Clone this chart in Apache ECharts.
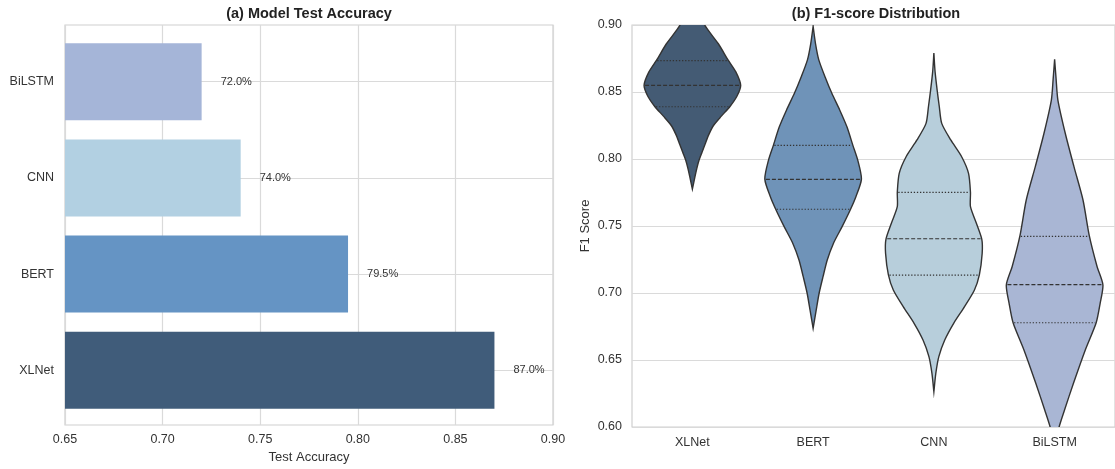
<!DOCTYPE html>
<html>
<head>
<meta charset="utf-8">
<script src="https://cdn.jsdelivr.net/npm/echarts@6/dist/echarts.min.js"></script>
<style>html,body{margin:0;padding:0;background:#fff;}#c{width:1115px;height:469px;}</style>
</head>
<body>
<div id="c"></div>
<script>
// ---- data ----
const categories = ['XLNet', 'BERT', 'CNN', 'BiLSTM'];
const accuracy = [0.87, 0.795, 0.74, 0.72];
// violin profiles: [F1 value, half-width in category-band units]
const xlnetProfile = [[0.930,0],[0.915,0.04],[0.900,0.102],[0.886,0.215],[0.874,0.295],[0.865,0.36],[0.855,0.40],[0.847,0.37],[0.839,0.31],[0.832,0.24],[0.825,0.175],[0.818,0.135],[0.811,0.105],[0.805,0.08],[0.799,0.055],[0.793,0.037],[0.787,0.022],[0.7775,0]];
const bertProfile = [[0.899,0],[0.886,0.02],[0.874,0.047],[0.861,0.10],[0.849,0.155],[0.8366,0.22],[0.824,0.28],[0.810,0.33],[0.799,0.37],[0.785,0.40],[0.772,0.355],[0.7625,0.31],[0.7495,0.24],[0.737,0.168],[0.7246,0.117],[0.7122,0.082],[0.700,0.05],[0.687,0.025],[0.6737,0]];
const cnnProfile = [[0.879,0],[0.865,0.01],[0.8515,0.027],[0.839,0.045],[0.8266,0.065],[0.8142,0.14],[0.8017,0.23],[0.7893,0.287],[0.7751,0.303],[0.7644,0.303],[0.752,0.352],[0.740,0.397],[0.7296,0.40],[0.7137,0.377],[0.7022,0.336],[0.6898,0.254],[0.6774,0.164],[0.6649,0.09],[0.6525,0.041],[0.640,0.016],[0.6263,0]];
const bilstmProfile = [[0.8744,0],[0.86,0.012],[0.844,0.027],[0.8192,0.088],[0.7943,0.16],[0.7694,0.235],[0.7428,0.287],[0.7196,0.352],[0.706,0.40],[0.6923,0.377],[0.6778,0.344],[0.6575,0.254],[0.6326,0.156],[0.6127,0.082],[0.600,0.037],[0.59,0.015],[0.58,0]];
// quartiles [Q1, median, Q3]
const xlnetQuart = [0.839, 0.855, 0.8734];
const bertQuart = [0.7625, 0.7848, 0.8102];
const cnnQuart = [0.7134, 0.7405, 0.7751];
const bilstmQuart = [0.6778, 0.7062, 0.7423];
const accTicks = ['0.65','0.70','0.75','0.80','0.85','0.90'];
const f1Ticks = ['0.60','0.65','0.70','0.75','0.80','0.85','0.90'];

// ---- styles ----
const barColors = ['#405c7a', '#6594c4', '#b2d0e2', '#a5b5d8'];
const violinColors = ['#445b74', '#6f93b8', '#b7cedb', '#a9b6d4'];
const FONT = "'Liberation Sans', Arial, sans-serif";
const TXT = '#333333';
const GRIDC = '#dadada';

const profiles = [xlnetProfile, bertProfile, cnnProfile, bilstmProfile];
const quarts = [xlnetQuart, bertQuart, cnnQuart, bilstmQuart];

function halfAt(prof, v) {
  for (let k = 0; k < prof.length - 1; k++) {
    const a = prof[k], b = prof[k + 1];
    if (v <= a[0] && v >= b[0]) {
      const t = (a[0] - v) / (a[0] - b[0]);
      return a[1] + t * (b[1] - a[1]);
    }
  }
  return 0;
}

const chart = echarts.init(document.getElementById('c'), null, {renderer: 'canvas'});

const option = {
  backgroundColor: '#ffffff',
  animation: false,
  textStyle: {fontFamily: FONT},
  graphic: [
    {type: 'text', x: 309, y: 14, style: {text: '(a) Model Test Accuracy', font: 'bold 14.5px ' + FONT, fill: '#222', align: 'center', verticalAlign: 'middle'}},
    {type: 'text', x: 876, y: 14, style: {text: '(b) F1-score Distribution', font: 'bold 14.5px ' + FONT, fill: '#222', align: 'center', verticalAlign: 'middle'}}
  ],
  grid: [
    {left: 65, top: 25, width: 488, height: 402, show: true, borderColor: '#cfcfcf', borderWidth: 1.2, backgroundColor: 'transparent'},
    {left: 65, top: 33.6, width: 488, height: 384.8},
    {left: 632, top: 25, width: 488, height: 402, show: true, borderColor: '#cfcfcf', borderWidth: 1.2, backgroundColor: 'transparent'}
  ],
  xAxis: [
    {gridIndex: 0, type: 'value', min: 0.65, max: 0.9, interval: 0.05,
     axisLine: {show: false}, axisTick: {show: false},
     axisLabel: {color: TXT, fontSize: 12.5, margin: 8, formatter: (v) => accTicks[Math.round((v - 0.65) / 0.05)]},
     splitLine: {show: true, lineStyle: {color: GRIDC, width: 1.2}},
     name: 'Test Accuracy', nameLocation: 'middle', nameGap: 26,
     nameTextStyle: {color: TXT, fontSize: 13}},
    {gridIndex: 1, type: 'value', min: 0.65, max: 0.9, show: false, splitLine: {show: false}},
    {gridIndex: 2, type: 'category', data: categories,
     axisLine: {show: false}, axisTick: {show: false},
     axisLabel: {color: TXT, fontSize: 12.5, margin: 9},
     splitLine: {show: false}}
  ],
  yAxis: [
    {gridIndex: 0, type: 'value', show: false, splitLine: {show: false}},
    {gridIndex: 1, type: 'category', data: categories,
     axisLine: {show: false}, axisTick: {show: false},
     axisLabel: {color: TXT, fontSize: 12.5, margin: 11},
     splitLine: {show: true, alignWithLabel: true, interval: 0, lineStyle: {color: GRIDC, width: 1.2}}},
    {gridIndex: 2, type: 'value', min: 0.6, max: 0.9, interval: 0.05,
     axisLine: {show: false}, axisTick: {show: false},
     axisLabel: {color: TXT, fontSize: 12.5, margin: 10, formatter: (v) => f1Ticks[Math.round((v - 0.6) / 0.05)]},
     splitLine: {show: true, lineStyle: {color: GRIDC, width: 1.2}},
     name: 'F1 Score', nameLocation: 'middle', nameGap: 40, nameRotate: 90,
     nameTextStyle: {color: TXT, fontSize: 13}}
  ],
  series: [
    {type: 'bar', xAxisIndex: 1, yAxisIndex: 1, barCategoryGap: '20%',
     data: accuracy.map((v, i) => ({value: v, itemStyle: {color: barColors[i]}})),
     label: {show: true, position: 'right', distance: 19, color: TXT, fontSize: 11,
             formatter: (p) => (p.value * 100).toFixed(1) + '%'}},
    {type: 'custom', xAxisIndex: 2, yAxisIndex: 2, clip: true,
     data: categories.map((c, i) => [i]),
     renderItem: function (params, api) {
       const i = api.value(0);
       const prof = profiles[i];
       const cx = api.coord([i, 0.75])[0];
       const bw = api.size([1, 0])[0];
       const right = prof.map(([v, h]) => [cx + h * bw, api.coord([i, v])[1]]);
       const left = prof.slice().reverse().map(([v, h]) => [cx - h * bw, api.coord([i, v])[1]]);
       const children = [{
         type: 'polygon',
         shape: {points: right.concat(left), smooth: 0.25},
         style: {fill: violinColors[i], stroke: '#333333', lineWidth: 1.4}
       }];
       quarts[i].forEach((q, k) => {
         const h = halfAt(prof, q) * bw - 1;
         const y = api.coord([i, q])[1];
         children.push({
           type: 'line',
           shape: {x1: cx - h, y1: y, x2: cx + h, y2: y},
           style: {stroke: '#333333', lineWidth: 1.2, lineDash: k === 1 ? [4, 2] : [1.3, 1.8]}
         });
       });
       return {type: 'group', children: children};
     }}
  ]
};
chart.setOption(option);
</script>
</body>
</html>
